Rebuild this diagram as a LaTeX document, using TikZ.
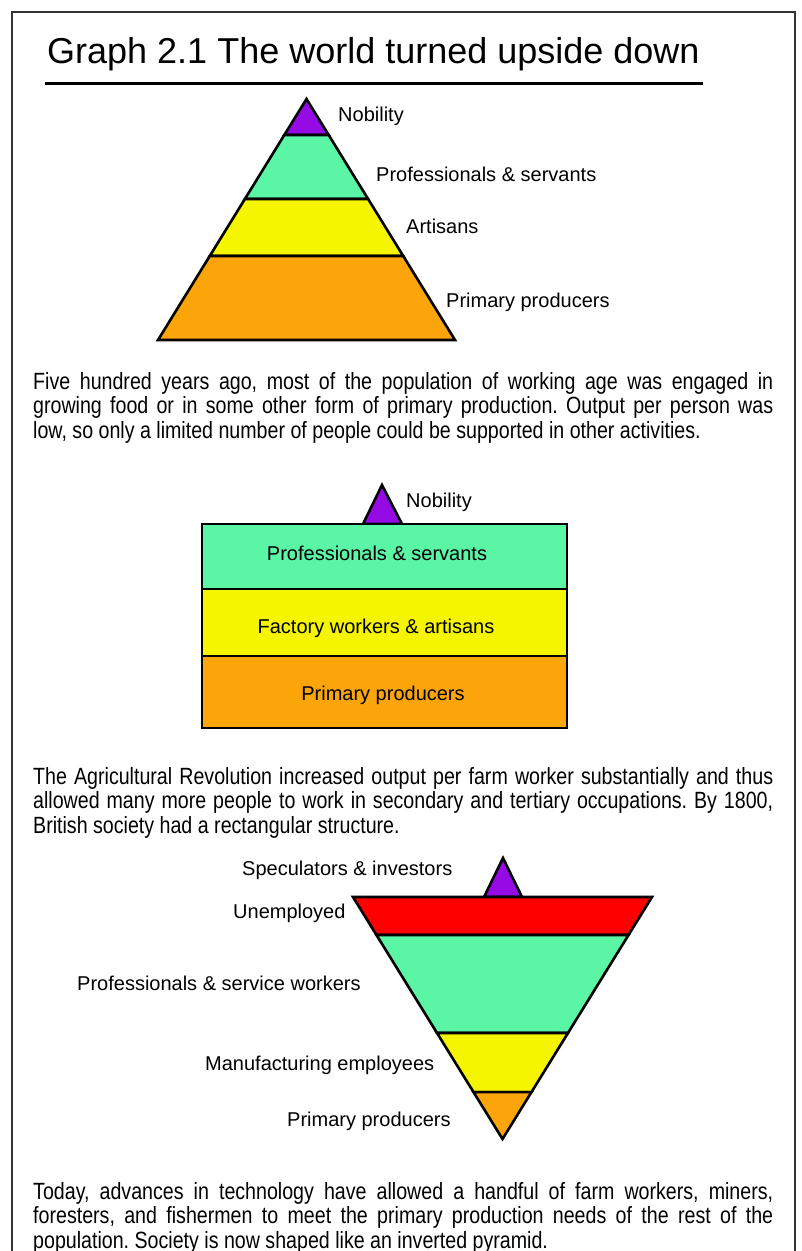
\documentclass[tikz,border=0pt]{standalone}
\usepackage{fontspec}
\setmainfont{Liberation Sans}
\newfontfamily\narrowsans[FakeStretch=0.835]{Liberation Sans}
\usetikzlibrary{calc}
\definecolor{nobc}{RGB}{150,10,230}
\definecolor{mintc}{RGB}{90,245,165}
\definecolor{yelc}{RGB}{245,245,0}
\definecolor{orgc}{RGB}{252,165,10}
\definecolor{redc}{RGB}{255,0,0}
\frenchspacing
\begin{document}
\begin{tikzpicture}[x=1pt,y=-1pt,
  layer/.style={draw=black,line width=2.6pt,line join=miter},
  lab/.style={inner sep=0,anchor=base west,font=\fontsize{20}{24}\selectfont},
  labc/.style={inner sep=0,anchor=base,font=\fontsize{20}{24}\selectfont},
  para/.style={inner sep=0,anchor=base west,font=\narrowsans\fontsize{23.5}{24}\selectfont},
  frameline/.style={draw=black!80,line width=1.5pt}]
\useasboundingbox[fill=white] (0,0) rectangle (801,1251);
% frame
\draw[frameline] (12,1251) -- (12,12) -- (795,12) -- (795,1251);
% title
\node[inner sep=0,anchor=base west,font=\fontsize{36}{40}\selectfont] (title) at (47,63) {Graph 2.1 The world turned upside down};
\draw[line width=3pt] (45,83) -- (703,83);

% ---------- pyramid 1
\coordinate (p1t) at (306.5,99);
\coordinate (p1l) at (158,340);
\coordinate (p1r) at (455,340);
\path ($(p1t)!0.1494!(p1l)$) coordinate (p1l1) ($(p1t)!0.1494!(p1r)$) coordinate (p1r1)
      ($(p1t)!0.4149!(p1l)$) coordinate (p1l2) ($(p1t)!0.4149!(p1r)$) coordinate (p1r2)
      ($(p1t)!0.6515!(p1l)$) coordinate (p1l3) ($(p1t)!0.6515!(p1r)$) coordinate (p1r3);
\filldraw[layer,fill=nobc] (p1t) -- (p1r1) -- (p1l1) -- cycle;
\filldraw[layer,fill=mintc] (p1l1) -- (p1r1) -- (p1r2) -- (p1l2) -- cycle;
\filldraw[layer,fill=yelc] (p1l2) -- (p1r2) -- (p1r3) -- (p1l3) -- cycle;
\filldraw[layer,fill=orgc] (p1l3) -- (p1r3) -- (p1r) -- (p1l) -- cycle;
\node[lab] (l1nob) at (338,121) {Nobility};
\node[lab] (l1prof) at (376,181) {Professionals \& servants};
\node[lab] (l1art) at (406,233) {Artisans};
\node[lab] (l1prim) at (446,307) {Primary producers};

\node[para] (t1a) at (33,389) {\makebox[740pt][s]{Five hundred years ago, most of the population of working age was engaged in}};
\node[para] (t1b) at (33,413.5) {\makebox[740pt][s]{growing food or in some other form of primary production. Output per person was}};
\node[para] (t1c) at (33,438) {low, so only a limited number of people could be supported in other activities.};

% ---------- rectangle society
\filldraw[layer,fill=nobc] (382,485) -- (402,524) -- (363,524) -- cycle;
\filldraw[layer,fill=mintc] (202,524) rectangle (567,589);
\filldraw[layer,fill=yelc] (202,589) rectangle (567,656);
\filldraw[layer,fill=orgc] (202,656) rectangle (567,728);
\node[lab] (l2nob) at (406,507) {Nobility};
\node[labc] (l2prof) at (377,560) {Professionals \& servants};
\node[labc] (l2fac) at (376,633) {Factory workers \& artisans};
\node[labc] (l2prim) at (383,700) {Primary producers};

\node[para] (t2a) at (33,784) {\makebox[740pt][s]{The Agricultural Revolution increased output per farm worker substantially and thus}};
\node[para] (t2b) at (33,808.5) {\makebox[740pt][s]{allowed many more people to work in secondary and tertiary occupations. By 1800,}};
\node[para] (t2c) at (33,833) {British society had a rectangular structure.};

% ---------- inverted pyramid
\filldraw[layer,fill=nobc] (503,858) -- (522,897) -- (484,897) -- cycle;
\coordinate (p3b) at (502.5,1139);
\coordinate (p3l) at (353,897);
\coordinate (p3r) at (652,897);
\path ($(p3l)!0.157!(p3b)$) coordinate (p3l1) ($(p3r)!0.157!(p3b)$) coordinate (p3r1)
      ($(p3l)!0.562!(p3b)$) coordinate (p3l2) ($(p3r)!0.562!(p3b)$) coordinate (p3r2)
      ($(p3l)!0.806!(p3b)$) coordinate (p3l3) ($(p3r)!0.806!(p3b)$) coordinate (p3r3);
\filldraw[layer,fill=redc] (p3l) -- (p3r) -- (p3r1) -- (p3l1) -- cycle;
\filldraw[layer,fill=mintc] (p3l1) -- (p3r1) -- (p3r2) -- (p3l2) -- cycle;
\filldraw[layer,fill=yelc] (p3l2) -- (p3r2) -- (p3r3) -- (p3l3) -- cycle;
\filldraw[layer,fill=orgc] (p3l3) -- (p3r3) -- (p3b) -- cycle;
\node[lab] (l3spec) at (242,875) {Speculators \& investors};
\node[lab] (l3unem) at (233,918) {Unemployed};
\node[lab] (l3prof) at (77,990) {Professionals \& service workers};
\node[lab] (l3man) at (205,1070) {Manufacturing employees};
\node[lab] (l3prim) at (287,1126) {Primary producers};

\node[para] (t3a) at (33,1199) {\makebox[740pt][s]{Today, advances in technology have allowed a handful of farm workers, miners,}};
\node[para] (t3b) at (33,1223.5) {\makebox[740pt][s]{foresters, and fishermen to meet the primary production needs of the rest of the}};
\node[para] (t3c) at (33,1248) {population. Society is now shaped like an inverted pyramid.};
\end{tikzpicture}
\end{document}
